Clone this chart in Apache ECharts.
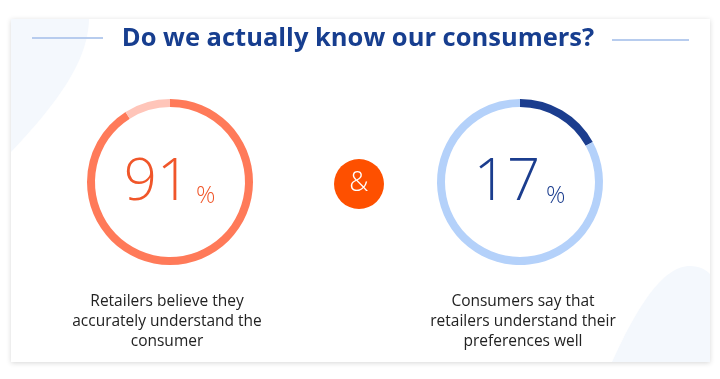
<!DOCTYPE html>
<html>
<head>
<meta charset="utf-8">
<script src="https://cdn.jsdelivr.net/npm/echarts@6/dist/echarts.min.js"></script>
<style>
html,body{margin:0;padding:0;background:#fff;}
#chart{width:720px;height:379px;}
</style>
</head>
<body>
<div id="chart"></div>
<script>
var titleText = 'Do we actually know our consumers?';
var percentValues = [91, 17];
var captions = [
  ['Retailers believe they', 'accurately understand the', 'consumer'],
  ['Consumers say that', 'retailers understand their', 'preferences well']
];
var joinerText = '&';

var rings = [
  {cx: 170, cy: 182, main: '#ff7a59', rest: '#ffc5b9', text: '#f0562a', capX: 167},
  {cx: 520, cy: 182, main: '#1b3d8e', rest: '#b4d1fa', text: '#1b3d8e', capX: 523}
];

function bez(p0, p1, p2, p3, n) {
  var pts = [];
  for (var i = 0; i <= n; i++) {
    var t = i / n, u = 1 - t;
    pts.push([
      u*u*u*p0[0] + 3*u*u*t*p1[0] + 3*u*t*t*p2[0] + t*t*t*p3[0],
      u*u*u*p0[1] + 3*u*u*t*p1[1] + 3*u*t*t*p2[1] + t*t*t*p3[1]
    ]);
  }
  return pts;
}

var blobLeft = [[11, 19]].concat(bez([89, 19], [88, 60], [60, 100], [11, 152], 30));
var blobRight = bez([612, 362], [640, 300], [665, 266], [690, 266], 30)
  .concat(bez([690, 266], [700, 266], [706, 270], [710, 274], 8))
  .concat([[710, 362]]);

var chart = echarts.init(document.getElementById('chart'), null, {renderer: 'canvas'});

var series = percentValues.map(function (v, i) {
  var r = rings[i];
  return {
    type: 'pie',
    center: [r.cx, r.cy],
    radius: [75, 83],
    startAngle: 90,
    clockwise: true,
    silent: true,
    label: {show: false},
    labelLine: {show: false},
    emphasis: {disabled: true},
    data: [
      {value: v, itemStyle: {color: r.main}},
      {value: 100 - v, itemStyle: {color: r.rest}}
    ],
    z: 5
  };
});

var graphics = [
  {type: 'rect', shape: {x: 11, y: 19, width: 699, height: 343}, style: {fill: '#ffffff', shadowBlur: 5, shadowColor: 'rgba(0,0,0,0.16)', shadowOffsetY: 1}, z: 0, silent: true},
  {type: 'polygon', shape: {points: blobLeft}, style: {fill: '#f4f8fd'}, z: 1, silent: true},
  {type: 'polygon', shape: {points: blobRight}, style: {fill: '#f4f8fd'}, z: 1, silent: true},
  {type: 'line', shape: {x1: 32, y1: 38, x2: 103, y2: 38}, style: {stroke: '#b7ccee', lineWidth: 2}, z: 2, silent: true},
  {type: 'line', shape: {x1: 612, y1: 40, x2: 689, y2: 40}, style: {stroke: '#b7ccee', lineWidth: 2}, z: 2, silent: true},
  {type: 'text', x: 358, y: 39, style: {text: titleText, font: 'bold 25.5px "Open Sans"', fill: '#173e8f', align: 'center', verticalAlign: 'middle'}, z: 3, silent: true},
  {type: 'circle', shape: {cx: 359, cy: 184, r: 25}, style: {fill: '#fe5000'}, z: 3, silent: true},
  {type: 'text', x: 359, y: 183, style: {text: joinerText, font: '300 27px "Open Sans"', fill: '#ffffff', align: 'center', verticalAlign: 'middle'}, z: 4, silent: true}
];

percentValues.forEach(function (v, i) {
  var r = rings[i];
  graphics.push({type: 'text', x: r.cx + 20, y: r.cy + 1, style: {text: String(v), font: '300 58px "Open Sans"', fill: r.text, align: 'right', verticalAlign: 'middle'}, z: 6, silent: true});
  graphics.push({type: 'text', x: r.cx + 26, y: r.cy + 14, style: {text: '%', font: '300 24px "Open Sans"', fill: r.text, align: 'left', verticalAlign: 'middle'}, z: 6, silent: true});
  captions[i].forEach(function (line, k) {
    graphics.push({type: 'text', x: r.capX, y: 302 + k * 20, style: {text: line, font: '15.5px "Open Sans"', fill: '#222222', align: 'center', verticalAlign: 'middle'}, z: 6, silent: true});
  });
});

chart.setOption({
  animation: false,
  series: series,
  graphic: graphics
});
</script>
</body>
</html>
